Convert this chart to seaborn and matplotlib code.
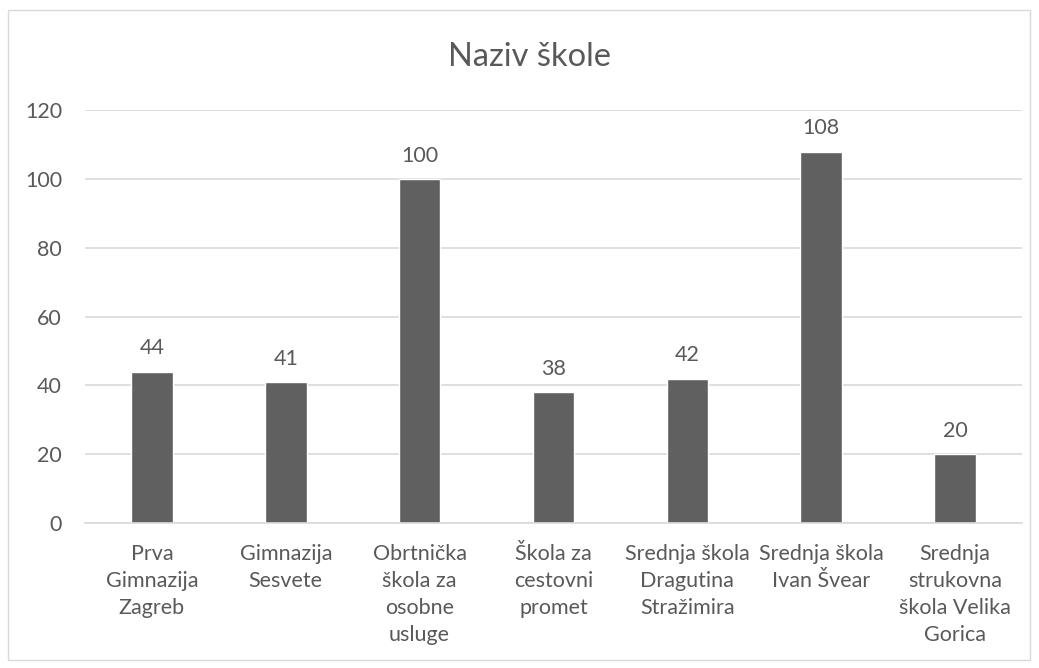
import matplotlib
matplotlib.use("Agg")
import matplotlib.pyplot as plt
import seaborn as sns
import pandas as pd
from matplotlib.patches import Rectangle

# data
schools = [
    "Prva\nGimnazija\nZagreb",
    "Gimnazija\nSesvete",
    "Obrtnička\nškola za\nosobne\nusluge",
    "Škola za\ncestovni\npromet",
    "Srednja škola\nDragutina\nStražimira",
    "Srednja škola\nIvan Švear",
    "Srednja\nstrukovna\nškola Velika\nGorica",
]
counts = [44, 41, 100, 38, 42, 108, 20]

df = pd.DataFrame({"Škola": schools, "Broj": counts})

sns.set_style("white")
plt.rcParams["font.family"] = ["Lato", "DejaVu Sans"]
text_col = "#595959"
fs = 15.5

fig = plt.figure(figsize=(10.39, 6.68), dpi=100)
ax = fig.add_axes([0.0818, 0.217, 0.9018, 0.618])

sns.barplot(data=df, x="Škola", y="Broj", color="#606060", width=0.31,
            saturation=1, ax=ax)

ax.set_ylim(0, 120)
ax.set_yticks(range(0, 121, 20))
ax.yaxis.grid(True, color="#d9d9d9", linewidth=1.2)
ax.set_axisbelow(True)
for s in ["top", "right", "left"]:
    ax.spines[s].set_visible(False)
ax.spines["bottom"].set_color("#d9d9d9")
ax.spines["bottom"].set_linewidth(1.2)
ax.tick_params(axis="x", length=0, labelsize=fs, colors=text_col, pad=15)
ax.tick_params(axis="y", length=0, labelsize=fs, colors=text_col, pad=16.5)
for lbl in ax.get_xticklabels():
    lbl.set_linespacing(1.45)
ax.set_xlabel("")
ax.set_ylabel("")
ax.set_xlim(-0.5, len(schools) - 0.5)

for c in ax.containers:
    ax.bar_label(c, padding=9.5, fontsize=fs, color=text_col)

fig.text(530 / 1039, 1 - 57 / 668, "Naziv škole", ha="center", va="center",
         fontsize=23.5, color=text_col)

fig.patches.append(Rectangle((8 / 1039, 8 / 668), 1022 / 1039, 650 / 668,
                             transform=fig.transFigure, fill=False,
                             edgecolor="#d9d9d9", linewidth=1))

fig.savefig("out.png", dpi=100)
